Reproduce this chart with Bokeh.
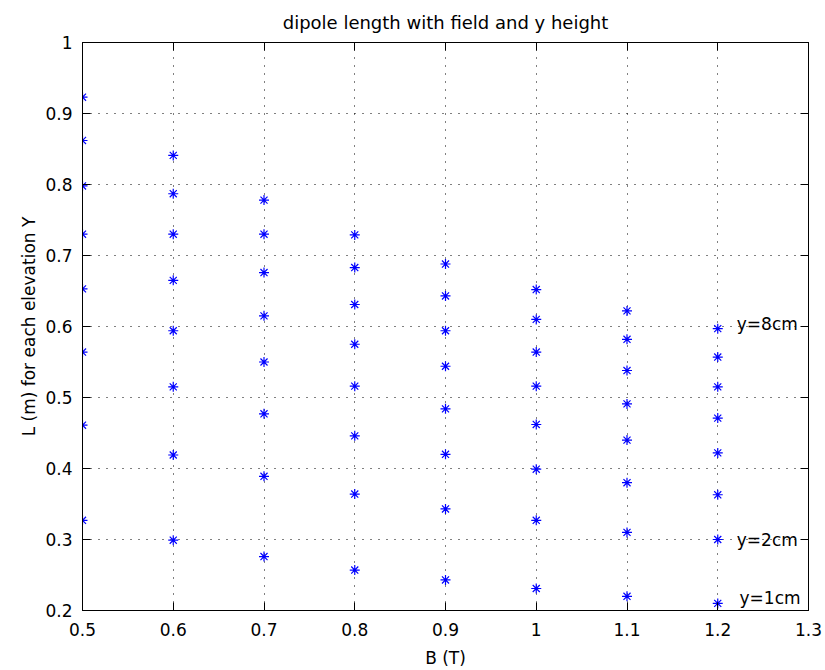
from bokeh.plotting import figure
from bokeh.models import Range1d, FixedTicker, LinearAxis, Label
from bokeh.embed import file_html
from bokeh.resources import INLINE

# Magnetic field values (T)
B = [0.5, 0.6, 0.7, 0.8, 0.9, 1.0, 1.1, 1.2]

# Dipole length L (m) for each elevation y (1..8 cm)
L_y1 = [0.327, 0.299, 0.276, 0.257, 0.243, 0.231, 0.220, 0.210]
L_y2 = [0.461, 0.419, 0.389, 0.364, 0.343, 0.327, 0.310, 0.300]
L_y3 = [0.564, 0.515, 0.477, 0.446, 0.420, 0.399, 0.380, 0.363]
L_y4 = [0.653, 0.594, 0.550, 0.516, 0.484, 0.462, 0.440, 0.422]
L_y5 = [0.730, 0.665, 0.615, 0.575, 0.544, 0.516, 0.491, 0.471]
L_y6 = [0.798, 0.730, 0.676, 0.631, 0.594, 0.564, 0.538, 0.515]
L_y7 = [0.862, 0.787, 0.730, 0.683, 0.643, 0.610, 0.582, 0.557]
L_y8 = [0.923, 0.841, 0.778, 0.729, 0.688, 0.652, 0.622, 0.597]
series = [L_y1, L_y2, L_y3, L_y4, L_y5, L_y6, L_y7, L_y8]

x_ticks = [0.5, 0.6, 0.7, 0.8, 0.9, 1, 1.1, 1.2, 1.3]
x_tick_labels = ["0.5", "0.6", "0.7", "0.8", "0.9", "1", "1.1", "1.2", "1.3"]
y_ticks = [0.2, 0.3, 0.4, 0.5, 0.6, 0.7, 0.8, 0.9, 1]
y_tick_labels = ["0.2", "0.3", "0.4", "0.5", "0.6", "0.7", "0.8", "0.9", "1"]

# Text annotations
ann_text = ["y=8cm", "y=2cm", "y=1cm"]
ann_x = [1.221, 1.221, 1.224]
ann_y = [0.604, 0.300, 0.217]

FONT = "DejaVu Sans"

p = figure(width=825, height=670, output_backend="svg", toolbar_location=None,
           x_range=Range1d(0.5, 1.3), y_range=Range1d(0.2, 1.0),
           min_border_left=82, min_border_right=17, min_border_top=42, min_border_bottom=60,
           title="dipole length with field and y height")
p.background_fill_color = "white"
p.border_fill_color = "white"
p.outline_line_color = "black"
p.outline_line_width = 1

p.title.align = "center"
p.title.text_font = FONT
p.title.text_font_size = "18px"
p.title.text_font_style = "normal"
p.title.text_color = "black"
p.title.standoff = 19

def style_axis(ax, ticks, labels, show_labels=True):
    ax.ticker = FixedTicker(ticks=ticks)
    ax.major_tick_in = 8
    ax.major_tick_out = 0
    ax.minor_tick_in = 0
    ax.minor_tick_out = 0
    ax.axis_line_color = "black"
    ax.major_tick_line_color = "black"
    ax.major_label_text_font = FONT
    ax.major_label_text_color = "black"
    ax.major_label_text_font_size = "17px"
    ax.axis_label_text_font = FONT
    ax.axis_label_text_font_size = "17px"
    ax.axis_label_text_font_style = "normal"
    ax.axis_label_text_color = "black"
    if show_labels:
        ax.major_label_overrides = dict(zip(ticks, labels))
        ax.major_label_standoff = 10
    else:
        ax.major_label_overrides = {t: "" for t in ticks}
        ax.major_label_standoff = 0

style_axis(p.xaxis[0], x_ticks, x_tick_labels)
style_axis(p.yaxis[0], y_ticks, y_tick_labels)
p.xaxis[0].major_label_standoff = 12
p.xaxis[0].axis_label = "B (T)"
p.xaxis[0].axis_label_standoff = 9
p.yaxis[0].axis_label = "L (m) for each elevation Y"
p.yaxis[0].axis_label_standoff = 3

top = LinearAxis()
style_axis(top, x_ticks, x_tick_labels, show_labels=False)
p.add_layout(top, "above")
right = LinearAxis()
style_axis(right, y_ticks, y_tick_labels, show_labels=False)
p.add_layout(right, "right")

for g in (p.xgrid[0], p.ygrid[0]):
    g.grid_line_color = "black"
    g.grid_line_dash = "1 7"
    g.grid_line_width = 1
p.xgrid[0].ticker = FixedTicker(ticks=x_ticks)
p.ygrid[0].ticker = FixedTicker(ticks=y_ticks)

for s in series:
    p.scatter(B, s, marker="asterisk", size=10, line_color="#0000ff", line_width=1.2)

for t, x, y in zip(ann_text, ann_x, ann_y):
    p.add_layout(Label(x=x, y=y, text=t, text_font=FONT, text_font_size="17px",
                       text_baseline="middle", text_align="left", text_color="black"))

open("out.html", "w").write(file_html(p, INLINE))
